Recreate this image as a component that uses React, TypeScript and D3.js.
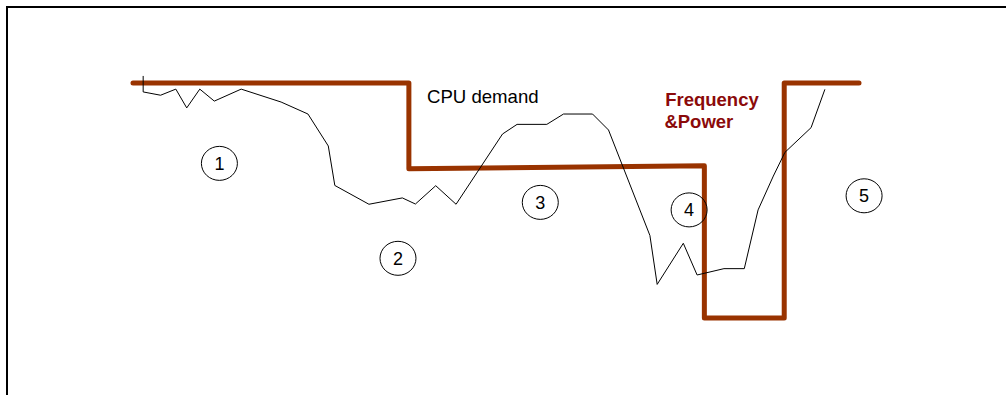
import * as d3 from 'd3';

// time axis 0..100, level axis 0..100 (arbitrary units)
const freqTime = [0, 38, 38, 78.7, 78.7, 89.7, 89.7, 100];
const freqLevel = [100, 100, 63.5, 64.8, 0, 0, 100, 100];

const cpuTime = [
  1.4, 1.4, 3.8, 5.9, 7.4, 9.2, 11.2, 14.9, 20.4, 24.1, 26.9, 27.8,
  32.5, 37.1, 38.9, 41.7, 44.5, 50.9, 52.9, 57.0, 59.3, 63.3, 65.5,
  71.2, 72.2, 75.8, 77.7, 81.4, 84.2, 86.1, 88.2, 89.8, 93.4, 95.3,
];
const cpuLevel = [
  103, 96.2, 94.8, 97.4, 89.4, 97.4, 92.3, 97.4, 91.9, 86.8, 73.2, 56.4,
  48.4, 51.1, 48.5, 56.3, 48.4, 78.3, 82.4, 82.4, 86.8, 86.8, 80.0,
  35.1, 14.3, 31.8, 18.3, 21.0, 21.0, 46.0, 60.4, 70.5, 81.0, 97.3,
];

const phaseLabels = ['1', '2', '3', '4', '5'];
const phaseTime = [11.9, 36.5, 56.1, 76.6, 100.7];
const phaseLevel = [65.8, 25.4, 49.2, 46.0, 52.0];

const W = 1006;
const H = 395;

export default function App() {
  const x = d3.scaleLinear().domain([0, 100]).range([133, 859]);
  const y = d3.scaleLinear().domain([0, 100]).range([318, 83]);

  const freqPts: [number, number][] = freqTime.map((t, i) => [t, freqLevel[i]]);
  const cpuPts: [number, number][] = cpuTime.map((t, i) => [t, cpuLevel[i]]);

  const line = d3
    .line<[number, number]>()
    .x((d) => x(d[0]))
    .y((d) => y(d[1]));

  return (
    <svg
      width={W}
      height={H}
      style={{ position: 'absolute', left: 0, top: 0, display: 'block', background: '#fff' }}
      fontFamily="'Liberation Sans', Arial, sans-serif"
    >
      {/* frame */}
      <path d={`M7,${H}V7H${W}`} fill="none" stroke="#000" strokeWidth={2} />

      {/* frequency & power */}
      <path
        d={line(freqPts) || ''}
        fill="none"
        stroke="#993300"
        strokeWidth={5}
        strokeLinecap="round"
        strokeLinejoin="round"
      />

      {/* cpu demand */}
      <path d={line(cpuPts) || ''} fill="none" stroke="#000" strokeWidth={1} />

      {phaseLabels.map((lab, i) => (
        <g key={lab} transform={`translate(${x(phaseTime[i])},${y(phaseLevel[i])})`}>
          <ellipse rx={18} ry={17} fill="none" stroke="#000" strokeWidth={1} />
          <text textAnchor="middle" dy="0.36em" fontSize={18} fill="#000">
            {lab}
          </text>
        </g>
      ))}

      <text x={x(40.5)} y={y(91.4)} fontSize={18.6} fill="#000">
        CPU demand
      </text>
      <text x={x(73.3)} y={y(90.4)} fontSize={18.5} fontWeight="bold" fill="#8b0a0a">
        Frequency
      </text>
      <text x={x(73.2)} y={y(80.9)} fontSize={18.5} fontWeight="bold" fill="#8b0a0a">
        &amp;Power
      </text>
    </svg>
  );
}
